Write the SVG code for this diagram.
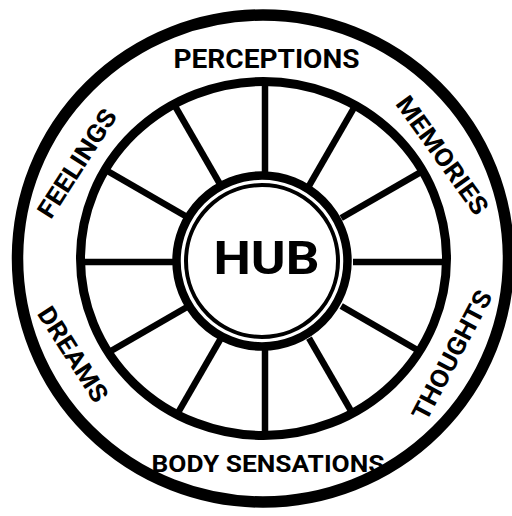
<svg xmlns="http://www.w3.org/2000/svg" width="512" height="516" viewBox="0 0 512 516">
<style>
.ring{fill:none;stroke:#000}
.spoke{stroke:#000;stroke-width:6.5;stroke-linecap:butt}
.lbl{font-family:Roboto,"Liberation Sans",sans-serif;font-weight:700;fill:#000;text-anchor:middle}
</style>
<rect width="512" height="516" fill="#fff"/>
<g id="outer-ring"><ellipse class="ring" cx="263" cy="258.5" rx="245.5" ry="243.5" stroke-width="11.5"/></g>
<g id="connectors">
<line class="spoke" x1="353" y1="262" x2="446.5" y2="262"/>
<line class="spoke" x1="341.2" y1="306" x2="419.5" y2="351.2"/>
<line class="spoke" x1="309" y1="338.2" x2="352.3" y2="413.2"/>
<line class="spoke" x1="265" y1="350" x2="265" y2="435.5"/>
<line class="spoke" x1="221" y1="338.2" x2="177" y2="414.5"/>
<line class="spoke" x1="188.8" y1="306" x2="108.3" y2="352.5"/>
<line class="spoke" x1="177" y1="262" x2="80.5" y2="262"/>
<line class="spoke" x1="188.8" y1="218" x2="105.3" y2="169.8"/>
<line class="spoke" x1="221" y1="185.8" x2="173.9" y2="104.2"/>
<line class="spoke" x1="265" y1="174" x2="265" y2="81.5"/>
<line class="spoke" x1="309" y1="185.8" x2="355.3" y2="105.5"/>
<line class="spoke" x1="341.2" y1="218" x2="422.5" y2="171.1"/>
</g>
<g id="rim"><ellipse class="ring" cx="263.5" cy="258.5" rx="183" ry="177" stroke-width="9"/></g>
<g id="hub">
<circle cx="262" cy="261" r="85.5" fill="#fff" stroke="#000" stroke-width="8.5"/>
<circle class="ring" cx="262" cy="261" r="76" stroke-width="4"/>
<text class="lbl" x="266.5" y="274" font-size="45.5" textLength="106" lengthAdjust="spacingAndGlyphs">HUB</text>
</g>
<g id="perceptions"><text class="lbl" x="266.5" y="68" font-size="25" textLength="186" lengthAdjust="spacingAndGlyphs">PERCEPTIONS</text></g>
<g id="body-sensations"><text class="lbl" x="268" y="472" font-size="24.5" textLength="233" lengthAdjust="spacingAndGlyphs">BODY SENSATIONS</text></g>
<g id="feelings"><text class="lbl" transform="translate(76.7,163.3) rotate(-57.3)" x="0" y="9" font-size="25" textLength="124" lengthAdjust="spacingAndGlyphs">FEELINGS</text></g>
<g id="memories"><text class="lbl" transform="translate(442.5,155) rotate(54.4)" x="0" y="9" font-size="25" textLength="139" lengthAdjust="spacingAndGlyphs">MEMORIES</text></g>
<g id="thoughts"><text class="lbl" transform="translate(451.7,355) rotate(-62.1)" x="0" y="9" font-size="25" textLength="143" lengthAdjust="spacingAndGlyphs">THOUGHTS</text></g>
<g id="dreams"><text class="lbl" transform="translate(73.3,354.2) rotate(57.4)" x="0" y="9" font-size="25" textLength="108" lengthAdjust="spacingAndGlyphs">DREAMS</text></g>
</svg>
